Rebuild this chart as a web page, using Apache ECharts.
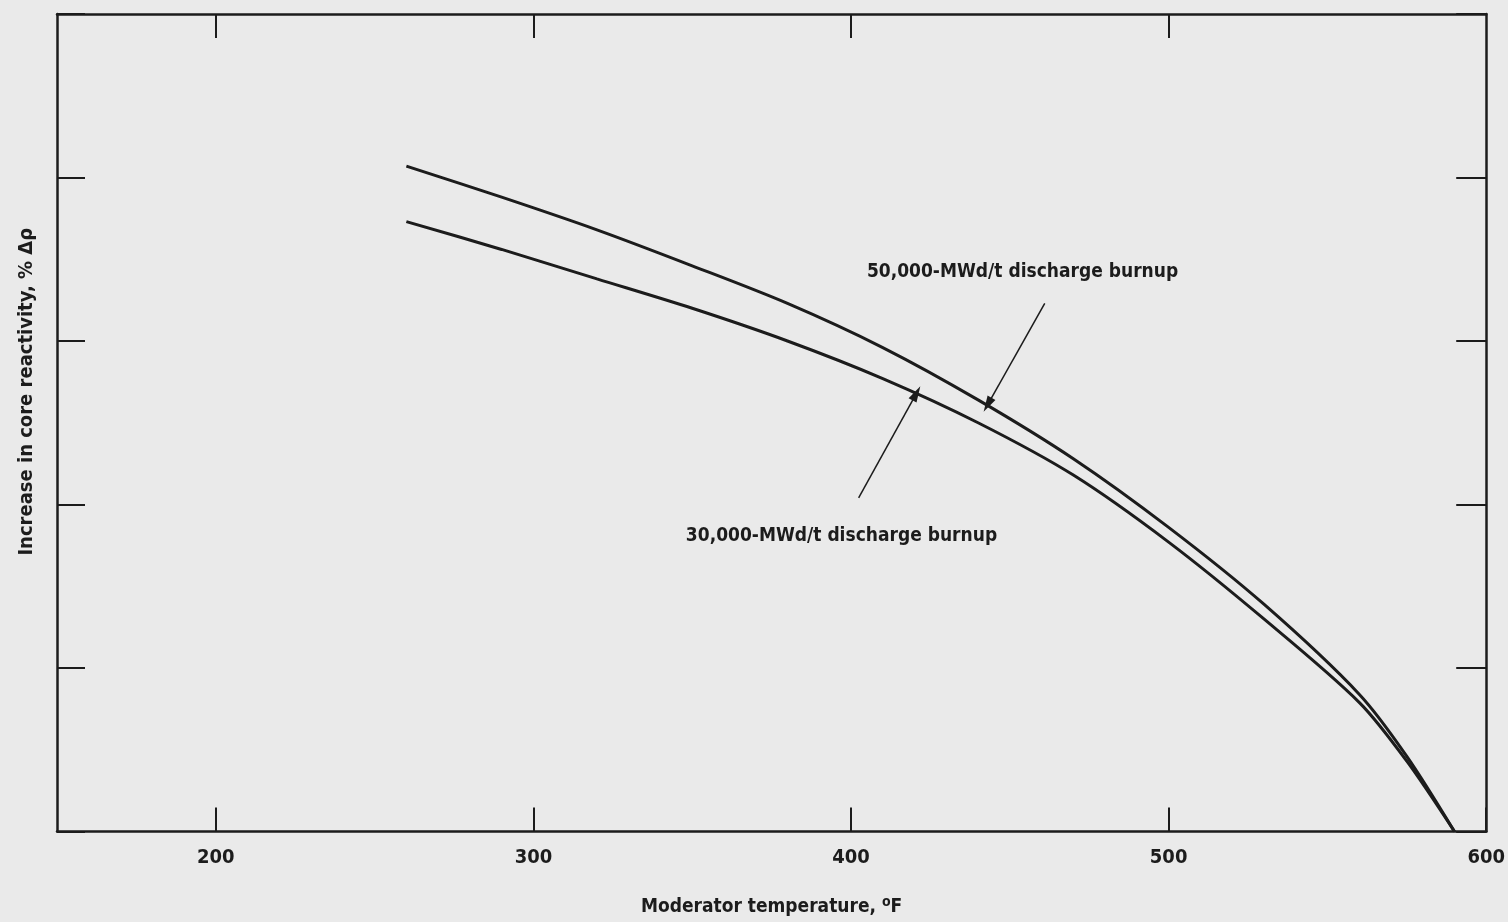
<!DOCTYPE html>
<html><head><meta charset="utf-8">
<script src="https://cdn.jsdelivr.net/npm/echarts@6/dist/echarts.min.js"></script>
<style>html,body{margin:0;padding:0;background:#eaeaea}#c{width:1508px;height:922px}</style>
</head><body><div id="c"></div>
<script>
// Moderator temperature (°F)
const temps = [260, 290, 320, 350, 380, 410, 440, 470, 500, 530, 560, 575, 590];
// Increase in core reactivity (%Δρ, scale units; axis is unlabelled)
const react50 = [4.07, 3.88, 3.68, 3.46, 3.23, 2.96, 2.64, 2.28, 1.86, 1.39, 0.84, 0.46, 0];
const react30 = [3.73, 3.56, 3.38, 3.20, 3.00, 2.77, 2.50, 2.18, 1.77, 1.30, 0.79, 0.43, 0];
const xTickValues = [200, 300, 400, 500, 600];
const topTickValues = [200, 300, 400, 500];
const seriesNames = ['50,000-MWd/t discharge burnup', '30,000-MWd/t discharge burnup'];
// annotation anchors (data coords)
const label50 = [454, 3.42];
const label30 = [397, 1.81];
const arrow50 = [[461, 3.23], [443, 2.61]];
const arrow30 = [[402.4, 2.04], [420.6, 2.68]];

const FONT = "'Liberation Sans Narrow', 'DejaVu Sans Condensed', 'Roboto Condensed', sans-serif";
const INK = '#1c1c1c';

function zip(xs, ys) { return xs.map((x, i) => [x, ys[i]]); }

const chart = echarts.init(document.getElementById('c'));
const lineStyle = { color: INK, width: 3 };
const arrowLine = (pts) => ({
  symbol: ['none', 'triangle'],
  symbolSize: [9, 16],
  silent: true,
  label: { show: false },
  lineStyle: { color: INK, width: 1.5, type: 'solid' },
  data: [[{ coord: pts[0] }, { coord: pts[1] }]]
});
const textPoint = (pos, txt) => ({
  silent: true,
  symbol: 'rect',
  symbolSize: 1,
  itemStyle: { color: 'rgba(0,0,0,0)' },
  label: { show: true, position: 'inside', formatter: txt, color: INK,
           fontFamily: FONT, fontWeight: 'bold', fontSize: 19 },
  data: [{ coord: pos, name: txt }]
});

chart.setOption({
  backgroundColor: '#eaeaea',
  animation: false,
  grid: { left: 57, right: 19, top: 14, bottom: 90 },
  xAxis: [{
    type: 'value', min: 150, max: 600, position: 'bottom',
    name: '{a|Moderator temperature, }{s|o}{a|F}',
    nameLocation: 'middle', nameGap: 64,
    nameTextStyle: { rich: {
      a: { fontFamily: FONT, fontWeight: 'bold', fontSize: 19, color: INK },
      s: { fontFamily: FONT, fontWeight: 'bold', fontSize: 14, color: INK, verticalAlign: 'top', padding: [0, 0, 10, 0] }
    } },
    axisLine: { onZero: false, lineStyle: { color: INK, width: 2.5 } },
    axisTick: { inside: true, length: 24, customValues: xTickValues, lineStyle: { color: INK, width: 2 } },
    axisLabel: { customValues: xTickValues, margin: 16, fontFamily: FONT, fontWeight: 'bold', fontSize: 20, color: INK },
    splitLine: { show: false }
  }, {
    type: 'value', min: 150, max: 600, position: 'top',
    axisLine: { onZero: false, lineStyle: { color: INK, width: 2.5 } },
    axisTick: { inside: true, length: 24, customValues: topTickValues, lineStyle: { color: INK, width: 2 } },
    axisLabel: { show: false },
    splitLine: { show: false }
  }],
  yAxis: [{
    type: 'value', min: 0, max: 5, interval: 1, position: 'left',
    name: 'Increase in core reactivity, % Δρ',
    nameLocation: 'middle', nameGap: 20,
    nameTextStyle: { fontFamily: FONT, fontWeight: 'bold', fontSize: 20, color: INK, padding: [0, 0, 0, 62] },
    axisLine: { onZero: false, lineStyle: { color: INK, width: 2.5 } },
    axisTick: { inside: true, length: 28, lineStyle: { color: INK, width: 2 } },
    axisLabel: { show: false },
    splitLine: { show: false }
  }, {
    type: 'value', min: 0, max: 5, interval: 1, position: 'right',
    axisLine: { onZero: false, lineStyle: { color: INK, width: 2.5 } },
    axisTick: { inside: true, length: 30, lineStyle: { color: INK, width: 2 } },
    axisLabel: { show: false },
    splitLine: { show: false }
  }],
  series: [{
    name: seriesNames[0], type: 'line', smooth: 0.3, showSymbol: false,
    data: zip(temps, react50), lineStyle,
    markLine: arrowLine(arrow50),
    markPoint: textPoint(label50, seriesNames[0])
  }, {
    name: seriesNames[1], type: 'line', smooth: 0.3, showSymbol: false,
    data: zip(temps, react30), lineStyle,
    markLine: arrowLine(arrow30),
    markPoint: textPoint(label30, seriesNames[1])
  }]
});
</script></body></html>
